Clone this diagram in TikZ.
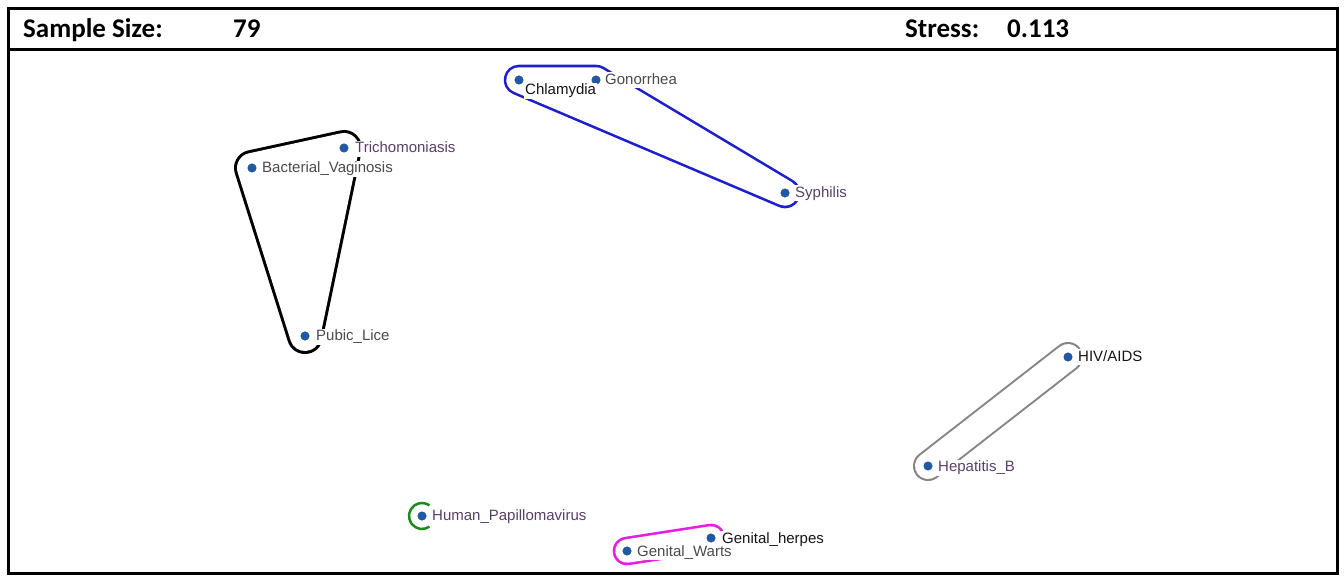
\documentclass[tikz,border=0pt]{standalone}
\usepackage{fontspec}
\setmainfont{Liberation Sans}
\newfontfamily\hdrfont{Carlito}
\definecolor{dotblue}{HTML}{1F5AA8}
\definecolor{hullblue}{HTML}{1E1ECF}
\definecolor{hullgray}{HTML}{858585}
\definecolor{hullpink}{HTML}{E61EE0}
\definecolor{hullgreen}{HTML}{1C8A1C}
\definecolor{txtgray}{HTML}{4A4A50}
\definecolor{txtpurple}{HTML}{5A4068}
\definecolor{txtblack}{HTML}{151515}
\begin{document}
\begin{tikzpicture}[x=1pt,y=-1pt,
  dot/.style={circle,fill=dotblue,draw=dotblue!80!black,line width=0.4pt,inner sep=0pt,minimum size=8.5pt},
  lab/.style={anchor=base west,fill=white,inner sep=1pt,text height=11pt,text depth=3pt,
    font=\fontsize{15}{17}\selectfont},
  lgray/.style={lab,text=txtgray},
  lpurple/.style={lab,text=txtpurple},
  lblack/.style={lab,text=txtblack},
  hdr/.style={anchor=base west,inner sep=0pt,font=\hdrfont\bfseries\fontsize{27}{30}\selectfont},
  hullbase/.style={line join=round,line cap=round}]
\useasboundingbox (0,0) rectangle (1344,577);
\fill[white] (0,0) rectangle (1344,577);

% point coordinates
\coordinate (pC) at (519,80);
\coordinate (pG) at (596,80);
\coordinate (pS) at (785,193);
\coordinate (pT) at (344,148);
\coordinate (pBV) at (252,168);
\coordinate (pPL) at (305,336);
\coordinate (pHIV) at (1068,357);
\coordinate (pHB) at (928,466);
\coordinate (pHPV) at (422,516);
\coordinate (pGH) at (711,538);
\coordinate (pGW) at (627,551);

% hulls (outline of rounded convex hull)
\draw[hullbase,draw=hullblue,fill=hullblue,line width=30.6pt] (pC) -- (pG) -- (pS) -- cycle;
\draw[hullbase,draw=white,fill=white,line width=25.4pt] (pC) -- (pG) -- (pS) -- cycle;
\draw[hullbase,draw=black,fill=black,line width=36pt] (pBV) -- (pT) -- (pPL) -- cycle;
\draw[hullbase,draw=white,fill=white,line width=30pt] (pBV) -- (pT) -- (pPL) -- cycle;
\draw[hullbase,draw=hullgray,line width=30pt] (pHB) -- (pHIV);
\draw[hullbase,draw=white,line width=26pt] (pHB) -- (pHIV);
\draw[hullbase,draw=hullpink,line width=28.6pt] (pGW) -- (pGH);
\draw[hullbase,draw=white,line width=23.4pt] (pGW) -- (pGH);
\draw[hullgreen,line width=2.5pt] (pHPV) ++(55:13) arc[start angle=55,end angle=305,radius=13];

% dots
\foreach \p in {C,G,S,T,BV,PL,HIV,HB,HPV,GH,GW}
  \node[dot] (d\p) at (p\p) {};

% labels
\node[lblack]  (lC)   at (524,95)   {Chlamydia};
\node[lgray]   (lG)   at (604,84.5) {Gonorrhea};
\node[lpurple] (lS)   at (794,197.5){Syphilis};
\node[lpurple] (lT)   at (354,153)  {Trichomoniasis};
\node[lgray]   (lBV)  at (261,173)  {Bacterial\_Vaginosis};
\node[lgray]   (lPL)  at (315,341)  {Pubic\_Lice};
\node[lblack]  (lHIV) at (1077,361) {HIV/AIDS};
\node[lpurple] (lHB)  at (937,471.5){Hepatitis\_B};
\node[lpurple] (lHPV) at (431,520.5){Human\_Papillomavirus};
\node[lblack]  (lGH)  at (721,543)  {Genital\_herpes};
\node[lgray]   (lGW)  at (636,556)  {Genital\_Warts};

% frame and header
\draw[line width=3pt] (8.5,9) rectangle (1337,573.5);
\draw[line width=3pt] (8.5,50) -- (1337,50);
\node[hdr] (hss) at (23,38) {Sample Size:};
\node[hdr] (hn)  at (233,38) {79};
\node[hdr] (hst) at (905,38) {Stress:};
\node[hdr] (hv)  at (1007,38) {0.113};
\end{tikzpicture}
\end{document}
